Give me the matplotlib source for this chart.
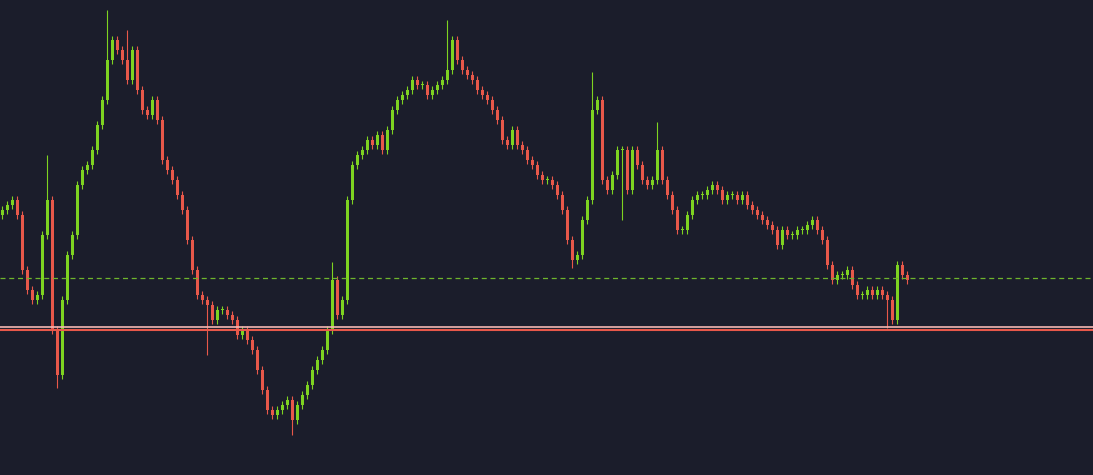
import matplotlib
matplotlib.use("Agg")
import matplotlib.pyplot as plt

# close values (price units = 475 - pixel row), one candle per 5px
close_px = [210,205,200,215,270,290,300,295,235,200,330,375,300,255,235,185,170,165,150,125,
100,60,40,50,60,80,50,90,110,115,100,120,160,170,180,195,210,240,270,295,
300,305,320,310,310,315,320,335,330,340,350,370,390,410,415,410,405,400,420,405,
395,385,370,360,350,330,280,315,300,200,165,155,150,140,145,135,150,130,110,100,
95,90,80,85,85,95,90,85,80,70,40,60,70,75,80,90,95,100,110,120,
140,145,130,145,150,160,165,175,180,180,185,195,210,240,260,255,220,200,110,100,
180,190,175,150,150,190,150,165,180,185,180,150,180,195,210,230,230,215,200,195,
195,190,185,190,200,195,195,200,195,205,210,215,220,225,230,245,230,235,235,230,
230,225,220,230,240,265,280,275,275,270,285,295,295,290,295,290,295,300,320,265,275,280]
closes = [475 - v for v in close_px]
opens = [475 - 215] + closes[:-1]
# notable wick extremes: index -> pixel row
high_px = {21: 10, 25: 30, 89: 20, 118: 72, 131: 122, 9: 155, 66: 262}
low_px = {11: 388, 58: 435, 41: 355, 177: 328, 114: 268, 124: 220}
base_wick = 4

bg = "#1b1d2b"
green = "#7ed321"
red = "#e8584a"
fig = plt.figure(figsize=(10.93, 4.75), dpi=100, facecolor=bg)
ax = fig.add_axes([0, 0, 1, 1], facecolor=bg)
for i, (o, c) in enumerate(zip(opens, closes)):
    x = 5 * i + 2
    hi = 475 - high_px[i] if i in high_px else max(o, c) + base_wick
    lo = 475 - low_px[i] if i in low_px else min(o, c) - base_wick
    col = green if c >= o else red
    ax.vlines(x, lo, hi, color=col, lw=0.8)
    ax.bar(x, max(abs(c - o), 1), bottom=min(o, c), width=3, color=col, linewidth=0)
ax.axhline(475 - 278, color="#6fb52c", lw=0.9, ls=(0, (4, 3)))
ax.axhline(475 - 327, color="#f4b7b2", lw=1.2)
ax.axhline(475 - 330, color="#e8584a", lw=1.5)
ax.set_xlim(0, 1093)
ax.set_ylim(0, 475)
ax.axis("off")
fig.savefig("out.png", facecolor=bg)
